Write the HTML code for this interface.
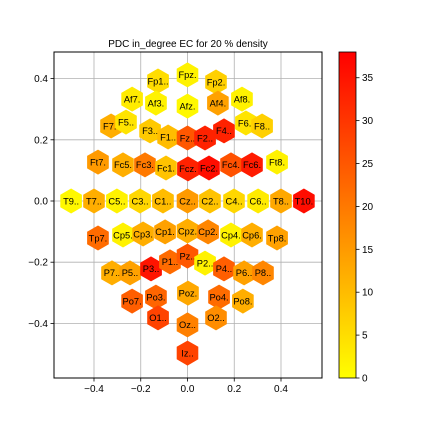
<!DOCTYPE html>
<html><head><meta charset="utf-8"><style>
body{margin:0;background:#fff;}
svg text{font-family:"Liberation Sans",sans-serif;}
</style></head><body>
<svg id="chart" width="432" height="432" viewBox="0 0 432 432" xmlns="http://www.w3.org/2000/svg">
<defs><linearGradient id="cb" x1="0" y1="1" x2="0" y2="0"><stop offset="0" stop-color="#ffff00"/><stop offset="1" stop-color="#ff0000"/></linearGradient></defs>
<text x="188" y="47" font-size="10" text-anchor="middle">PDC in_degree EC for 20 % density</text>
<g id="grid"></g>
<g id="marks"></g>
<rect x="54" y="52" width="268" height="326" fill="none" stroke="#000" stroke-width="1"/>
<g id="axes"></g>
<rect x="339" y="52" width="17" height="326" fill="url(#cb)" stroke="#000" stroke-width="0.8"/>
<g id="cbticks"></g>
</svg>
<script>
const labels=["Fp1..","Fpz.","Fp2.","Af7.","Af3.","Afz.","Af4.","Af8.","F7..","F5..","F3..","F1..","Fz..","F2..","F4..","F6..","F8..","Ft7.","Fc5.","Fc3.","Fc1.","Fcz.","Fc2.","Fc4.","Fc6.","Ft8.","T9..","T7..","C5..","C3..","C1..","Cz..","C2..","C4..","C6..","T8..","T10.","Tp7.","Cp5.","Cp3.","Cp1.","Cpz.","Cp2.","Cp4.","Cp6.","Tp8.","P7..","P5..","P3..","P1..","Pz..","P2..","P4..","P6..","P8..","Po7.","Po3.","Poz.","Po4.","Po8.","O1..","O2..","Oz..","Iz.."];
const xs=[-0.126,0,0.122,-0.237,-0.135,0,0.130,0.233,-0.327,-0.263,-0.160,-0.083,0,0.075,0.156,0.250,0.319,-0.383,-0.276,-0.182,-0.092,0.002,0.092,0.186,0.276,0.383,-0.498,-0.400,-0.302,-0.203,-0.105,0,0.096,0.199,0.302,0.400,0.498,-0.383,-0.276,-0.190,-0.096,0,0.088,0.186,0.276,0.383,-0.323,-0.246,-0.156,-0.075,0,0.075,0.156,0.242,0.323,-0.237,-0.135,0.002,0.135,0.237,-0.126,0.122,0,0];
const ys=[0.392,0.412,0.389,0.333,0.320,0.310,0.320,0.333,0.245,0.258,0.229,0.209,0.206,0.206,0.229,0.255,0.245,0.127,0.118,0.118,0.108,0.105,0.108,0.118,0.118,0.127,0,0,0,0,0,0,0,0,0,0,0,-0.121,-0.111,-0.108,-0.101,-0.098,-0.101,-0.111,-0.111,-0.121,-0.235,-0.235,-0.222,-0.199,-0.180,-0.203,-0.222,-0.235,-0.235,-0.327,-0.314,-0.301,-0.314,-0.327,-0.382,-0.382,-0.405,-0.497];
const values=[5,2,7,3,2,1,14,2,12,4,8,10,25,33,33,4,7,15,12,20,9,33,36,26,34,2,1,12,2,6,10,15,9,6,3,13,36,22,2,12,14,12,18,2,12,14,12,14,35,22,25,2,24,14,18,24,23,13,22,12,28,17,19,28];
const xTicks=[-0.4,-0.2,0,0.2,0.4];
const yTicks=[0.4,0.2,0,-0.2,-0.4];
const cbTicks=[0,5,10,15,20,25,30,35];
const vmin=0,vmax=38;
const NS="http://www.w3.org/2000/svg";
const X=v=>187.5+v*233.75;
const Y=v=>201-v*306;
const CB=v=>378-(v-vmin)/(vmax-vmin)*326;
function col(v){const t=Math.max(0,Math.min(1,(v-vmin)/(vmax-vmin)));return `rgb(255,${Math.round(255*(1-t))},0)`;}
function mk(tag,attrs,parent){const e=document.createElementNS(NS,tag);for(const k in attrs)e.setAttribute(k,attrs[k]);parent.appendChild(e);return e;}
const grid=document.getElementById('grid'),axes=document.getElementById('axes'),marks=document.getElementById('marks'),cbt=document.getElementById('cbticks');
xTicks.forEach(t=>{
  const l=mk('line',{x1:X(t),x2:X(t),y1:52,y2:378,stroke:'#b0b0b0','stroke-width':0.8},grid);
  
  
  mk('line',{x1:X(t),x2:X(t),y1:378,y2:381.5,stroke:'#000','stroke-width':0.8},axes);
  const tx=mk('text',{x:X(t),y:392,'font-size':10,'text-anchor':'middle'},axes);
  tx.textContent=(t<0?'\u2212':'')+Math.abs(t).toFixed(1);
  
  
});
yTicks.forEach(t=>{
  const l=mk('line',{x1:54,x2:322,y1:Y(t),y2:Y(t),stroke:'#b0b0b0','stroke-width':0.8},grid);
  
  
  mk('line',{x1:50.5,x2:54,y1:Y(t),y2:Y(t),stroke:'#000','stroke-width':0.8},axes);
  const tx=mk('text',{x:48,y:Y(t)+3.5,'font-size':10,'text-anchor':'end'},axes);
  tx.textContent=(t<0?'\u2212':'')+Math.abs(t).toFixed(1);
  
  
});
const R=12.5;
labels.forEach((lab,i)=>{
  const cx=X(xs[i]),cy=Y(ys[i]);
  const pts=[];for(let k=0;k<6;k++){const a=Math.PI/2+k*Math.PI/3;pts.push((cx+R*Math.cos(a)).toFixed(1)+','+(cy+R*Math.sin(a)).toFixed(1));}
  const g=mk('g',{},marks);
  
  
  mk('polygon',{points:pts.join(' '),fill:col(values[i])},g);
  const tx=mk('text',{x:cx,y:cy+3.3,'font-size':9.3,'text-anchor':'middle',fill:'#000'},g);
  tx.textContent=lab;
});
cbTicks.forEach(t=>{
  mk('line',{x1:356,x2:359.5,y1:CB(t),y2:CB(t),stroke:'#000','stroke-width':0.8},cbt);
  const tx=mk('text',{x:362,y:CB(t)+3.5,'font-size':10},cbt);
  tx.textContent=t;
  
  
});
</script>
</body></html>
